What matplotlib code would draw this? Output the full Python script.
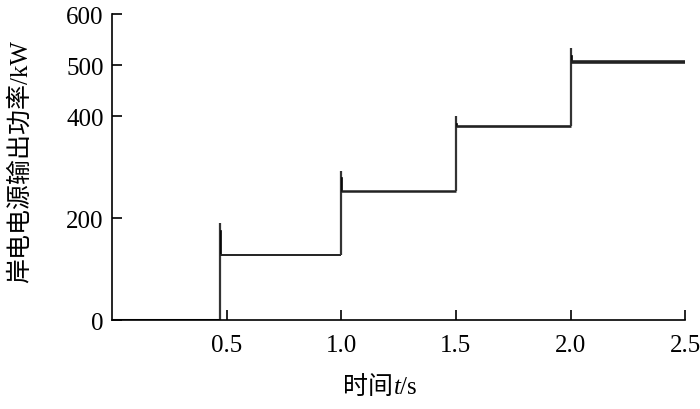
import matplotlib
matplotlib.use("Agg")
import matplotlib.pyplot as plt
from matplotlib.offsetbox import TextArea, HPacker, AnchoredOffsetbox

plt.rcParams['font.family'] = ['Liberation Serif', 'Noto Sans CJK SC']

# step data (time in s, power in kW)
step_times = [0.47, 1.0, 1.5, 2.0]
levels = [0, 127, 254, 381, 507]
overshoot = [190, 293, 400, 533]
t_end = 2.5

xticks = [0.5, 1.0, 1.5, 2.0, 2.5]
xtick_labels = ['0.5', '1.0', '1.5', '2.0', '2.5']
yticks = [0, 200, 400, 500, 600]

fig = plt.figure(figsize=(7, 4.1), dpi=100)
ax = fig.add_axes([0.16, 0.217, 0.819, 0.746])

ax.plot([0, step_times[0]], [levels[0], levels[0]], color='black', lw=2.2, solid_capstyle='butt')
widths = [1.4, 1.8, 1.9, 2.6]
for i, ts in enumerate(step_times):
    t_next = step_times[i + 1] if i + 1 < len(step_times) else t_end
    ax.plot([ts, ts], [levels[i], overshoot[i]], color='#333333', lw=1.6, solid_capstyle='butt')
    ax.plot([ts + 0.004, ts + 0.004], [overshoot[i] - 15, levels[i + 1]], color='black', lw=1.2)
    ax.plot([ts, t_next], [levels[i + 1], levels[i + 1]], color='#222222', lw=widths[i], solid_capstyle='butt')

ax.set_xlim(0, 2.5)
ax.set_ylim(0, 600)
ax.set_xticks(xticks)
ax.set_xticklabels(xtick_labels)
ax.set_yticks(yticks)
for s in ['top', 'right']:
    ax.spines[s].set_visible(False)
for s in ['left', 'bottom']:
    ax.spines[s].set_linewidth(1.2)
ax.tick_params(direction='in', length=7, width=1.2, labelsize=18, pad=6)
ax.tick_params(axis='x', pad=10)

ax.set_ylabel('岸电电源输出功率/kW', fontsize=18, va='center')
ax.yaxis.set_label_coords(-0.16, 0.52)

# x label with italic t
parts = [
    TextArea('时间', textprops=dict(fontsize=18, family=['Noto Sans CJK SC'])),
    TextArea('t', textprops=dict(fontsize=18, family=['Liberation Serif'], style='italic')),
    TextArea('/s', textprops=dict(fontsize=18, family=['Liberation Serif'])),
]
box = HPacker(children=parts, pad=0, sep=0, align='baseline')
anch = AnchoredOffsetbox(loc='center', child=box, frameon=False,
                         bbox_to_anchor=(0.468, -0.216), bbox_transform=ax.transAxes,
                         borderpad=0, pad=0)
ax.add_artist(anch)

fig.savefig('out.png', dpi=100)
